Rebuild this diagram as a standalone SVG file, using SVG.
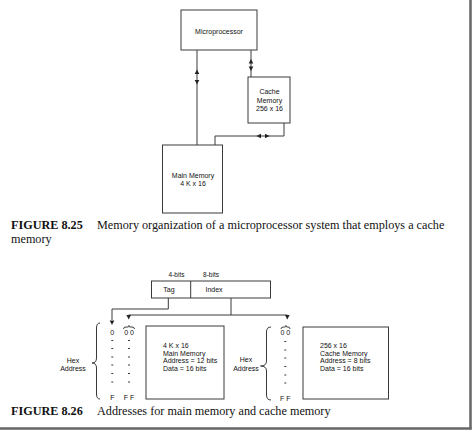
<svg xmlns="http://www.w3.org/2000/svg" width="474" height="431" viewBox="0 0 474 431">
<defs>
<style>
.bx{fill:#fff;stroke:#3a3a3a;stroke-width:1}
.ln{fill:none;stroke:#3a3a3a;stroke-width:1}
.t{font-family:"Liberation Sans",Arial,sans-serif;font-size:7px;fill:#111}
.c{text-anchor:middle}
.cap{font-family:"Liberation Serif","Times New Roman",serif;font-size:12.2px;fill:#111}
.b{font-weight:bold}
.ah{fill:#222}
</style>
<path id="ad" d="M0,0 L-2.3,-4.5 L2.3,-4.5 Z"/>
</defs>
<rect width="474" height="431" fill="#fff"/>
<g id="frame">
<line x1="470.5" y1="0" x2="470.5" y2="429.5" stroke="#666" stroke-width="2.5"/>
<line x1="0" y1="428.5" x2="471.5" y2="428.5" stroke="#666" stroke-width="2.5"/>
</g>
<g id="connectors825">
<path class="ln" d="M197,50 V145"/>
<path class="ln" d="M251,50 V77"/>
<path class="ln" d="M284,123 V136 H215 V145"/>
<use href="#ad" class="ah" transform="translate(197,69.5) rotate(180)"/>
<use href="#ad" class="ah" transform="translate(197,84.5)"/>
<use href="#ad" class="ah" transform="translate(251,59) rotate(180)"/>
<use href="#ad" class="ah" transform="translate(251,71)"/>
<use href="#ad" class="ah" transform="translate(256.5,136) rotate(90)"/>
<use href="#ad" class="ah" transform="translate(269.5,136) rotate(-90)"/>
</g>
<g id="microprocessor">
<rect class="bx" x="181" y="10" width="76" height="40"/>
<text class="t c" x="219" y="33.5">Microprocessor</text>
</g>
<g id="cache">
<rect class="bx" x="248" y="77" width="42" height="46"/>
<text class="t c" x="269.5" y="94">Cache</text>
<text class="t c" x="269.5" y="102.5">Memory</text>
<text class="t c" x="269.5" y="111">256 x 16</text>
</g>
<g id="mainmemory">
<rect class="bx" x="162.5" y="145" width="60" height="68"/>
<text class="t c" x="193" y="177.5">Main Memory</text>
<text class="t c" x="193" y="186">4 K x 16</text>
</g>
<g id="caption825">
<text class="cap" x="11" y="229"><tspan class="b">FIGURE 8.25</tspan><tspan x="97">Memory organization of a microprocessor system that employs a cache</tspan></text>
<text class="cap" x="11" y="242.5">memory</text>
</g>
<g id="tagindex">
<rect class="bx" x="151.5" y="281" width="119" height="17"/>
<line class="ln" x1="190.7" y1="281" x2="190.7" y2="298"/>
<text class="t c" x="176.5" y="277" style="font-size:6.5px">4-bits</text>
<text class="t c" x="211" y="277" style="font-size:6.5px">8-bits</text>
<text class="t c" x="169" y="292">Tag</text>
<text class="t c" x="214" y="292">Index</text>
</g>
<g id="connectors826">
<path class="ln" d="M168.3,298 V309 H112 V320"/>
<path class="ln" d="M231,298 V315"/>
<path class="ln" d="M128.7,315 H287.3"/>
<use href="#ad" class="ah" transform="translate(112,325)"/>
<use href="#ad" class="ah" transform="translate(128.7,319.5)"/>
<use href="#ad" class="ah" transform="translate(287.3,319.5)"/>
</g>
<g id="mainaddr">
<path class="ln" d="M100,323 Q96.5,323 96.5,328 V358 Q96.5,363 92,363 Q96.5,363 96.5,368 V394 Q96.5,399 100,399"/>
<text class="t c" x="73" y="362.5">Hex</text>
<text class="t c" x="73" y="370.5">Address</text>
<text class="t c" x="112.3" y="335">0</text>
<path class="ln" d="M123.5,329 Q123.5,327 126,327 H128 Q129,327 129,325.5 Q129,327 130,327 H132 Q134.5,327 134.5,329"/>
<text class="t c" x="129" y="335">0 0</text>
<path class="ln" d="M111.3,340.5h2M111.3,348.5h2M111.3,357h2M111.3,365h2M111.3,373.5h2M111.3,382h2M128,340.5h2M128,348.5h2M128,357h2M128,365h2M128,373.5h2M128,382h2"/>
<text class="t c" x="112.3" y="400">F</text>
<text class="t c" x="129" y="400">F F</text>
</g>
<g id="mainbox">
<rect class="bx" x="146" y="326" width="78" height="73"/>
<text class="t" x="163" y="347.5">4 K x 16</text>
<text class="t" x="163" y="355.5">Main Memory</text>
<text class="t" x="163" y="363">Address = 12 bits</text>
<text class="t" x="163" y="371">Data = 16 bits</text>
</g>
<g id="cacheaddr">
<path class="ln" d="M271,327 Q266.5,327 266.5,332 V361 Q266.5,366 260.5,366 Q266.5,366 266.5,371 V395 Q266.5,400 271,400"/>
<text class="t c" x="246" y="361.5">Hex</text>
<text class="t c" x="246" y="370.5">Address</text>
<path class="ln" d="M281,329 Q281,327 283.5,327 H285 Q286,327 286,325.5 Q286,327 287,327 H288 Q290,327 290,329"/>
<text class="t c" x="285.3" y="335">0 0</text>
<path class="ln" d="M284.3,341.5h2M284.3,350h2M284.3,358h2M284.3,366.5h2M284.3,375h2M284.3,383h2"/>
<text class="t c" x="285.3" y="400.5">F F</text>
</g>
<g id="cachebox">
<rect class="bx" x="303" y="327" width="85.5" height="72"/>
<text class="t" x="320" y="347.5">256 x 16</text>
<text class="t" x="320" y="355.5">Cache Memory</text>
<text class="t" x="320" y="363">Address = 8 bits</text>
<text class="t" x="320" y="371">Data = 16 bits</text>
</g>
<g id="caption826">
<text class="cap" x="11" y="414.5"><tspan class="b">FIGURE 8.26</tspan><tspan x="97">Addresses for main memory and cache memory</tspan></text>
</g>
</svg>
